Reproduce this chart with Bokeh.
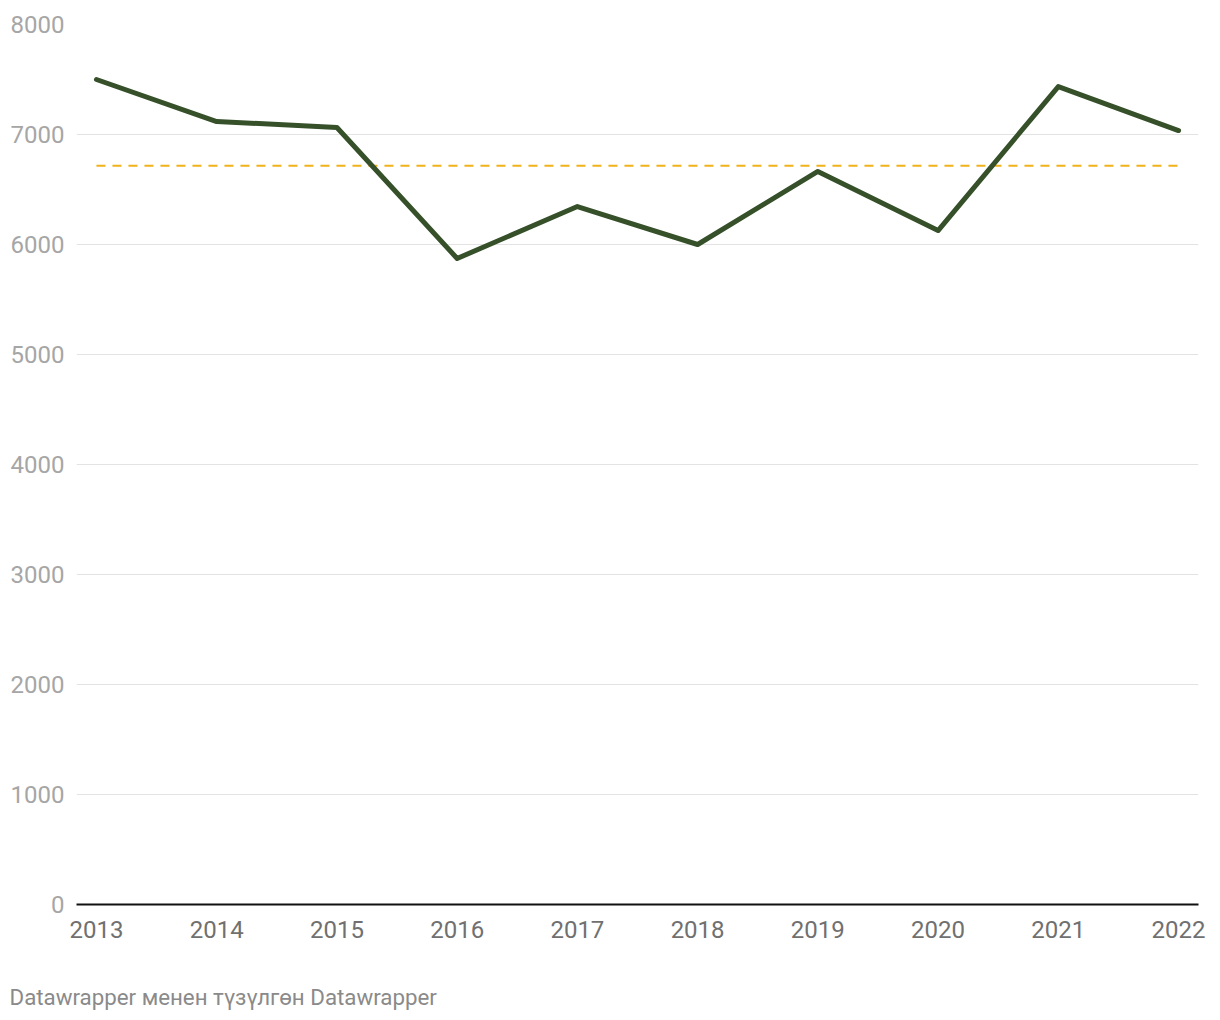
from bokeh.plotting import figure
from bokeh.models import FixedTicker, Range1d, Title, ColumnDataSource
from bokeh.layouts import column
from bokeh.embed import file_html
from bokeh.resources import INLINE

years = [2013, 2014, 2015, 2016, 2017, 2018, 2019, 2020, 2021, 2022]
values = [7500, 7118, 7064, 5873, 6345, 6000, 6664, 6127, 7436, 7036]
average = sum(values) / len(values)
y_ticks = [0, 1000, 2000, 3000, 4000, 5000, 6000, 7000, 8000]
footer = "Datawrapper менен түзүлгөн Datawrapper"

FONT = "Roboto"

p = figure(width=1212, height=964, output_backend="svg", toolbar_location=None,
           x_range=Range1d(2012.834, 2022.166), y_range=Range1d(0, 8000),
           min_border_left=76, min_border_right=14, min_border_top=24, min_border_bottom=60)
p.outline_line_color = None
p.background_fill_color = "white"
p.border_fill_color = "white"

p.xgrid.grid_line_color = None
p.ygrid.grid_line_color = "#e3e3e3"
p.ygrid.grid_line_width = 1
p.ygrid.ticker = FixedTicker(ticks=y_ticks)

p.yaxis.ticker = FixedTicker(ticks=y_ticks)
p.yaxis.axis_line_color = None
p.yaxis.major_tick_line_color = None
p.yaxis.minor_tick_line_color = None
p.yaxis.major_tick_out = 0
p.yaxis.major_tick_in = 0
p.yaxis.major_label_standoff = 12
p.yaxis.major_label_text_font = FONT
p.yaxis.major_label_text_font_size = "24px"
p.yaxis.major_label_text_color = "#a6a6a6"

p.xaxis.ticker = FixedTicker(ticks=years)
p.xaxis.axis_line_color = "#111111"
p.xaxis.axis_line_width = 2
p.xaxis.major_tick_line_color = None
p.xaxis.minor_tick_line_color = None
p.xaxis.major_tick_out = 0
p.xaxis.major_tick_in = 0
p.xaxis.major_label_standoff = 16
p.xaxis.major_label_text_font = FONT
p.xaxis.major_label_text_font_size = "24px"
p.xaxis.major_label_text_color = "#707070"

src = ColumnDataSource(dict(x=years, y=values))
p.line(x=[years[0], years[-1]], y=[average, average], line_color="#f0b21a",
       line_width=2, line_dash="9 7")
p.line("x", "y", source=src, line_color="#36502a", line_width=5,
       line_join="round", line_cap="round")

# footer strip
f = figure(width=1212, height=48, output_backend="svg", toolbar_location=None,
           x_axis_type=None, y_axis_type=None, x_range=Range1d(0, 1), y_range=Range1d(0, 1),
           min_border_left=76, min_border_right=14, min_border_top=45, min_border_bottom=0)
f.outline_line_color = None
f.xgrid.grid_line_color = None
f.ygrid.grid_line_color = None
f.background_fill_color = "white"
f.border_fill_color = "white"
t = Title(text=footer, align="left", text_font=FONT, text_font_size="22.3px",
          text_color="#8a8a8a", text_font_style="normal", offset=-67, standoff=0,
          vertical_align="bottom")
f.add_layout(t, "above")

layout = column(p, f, spacing=0)
open("out.html", "w").write(file_html(layout, INLINE))
